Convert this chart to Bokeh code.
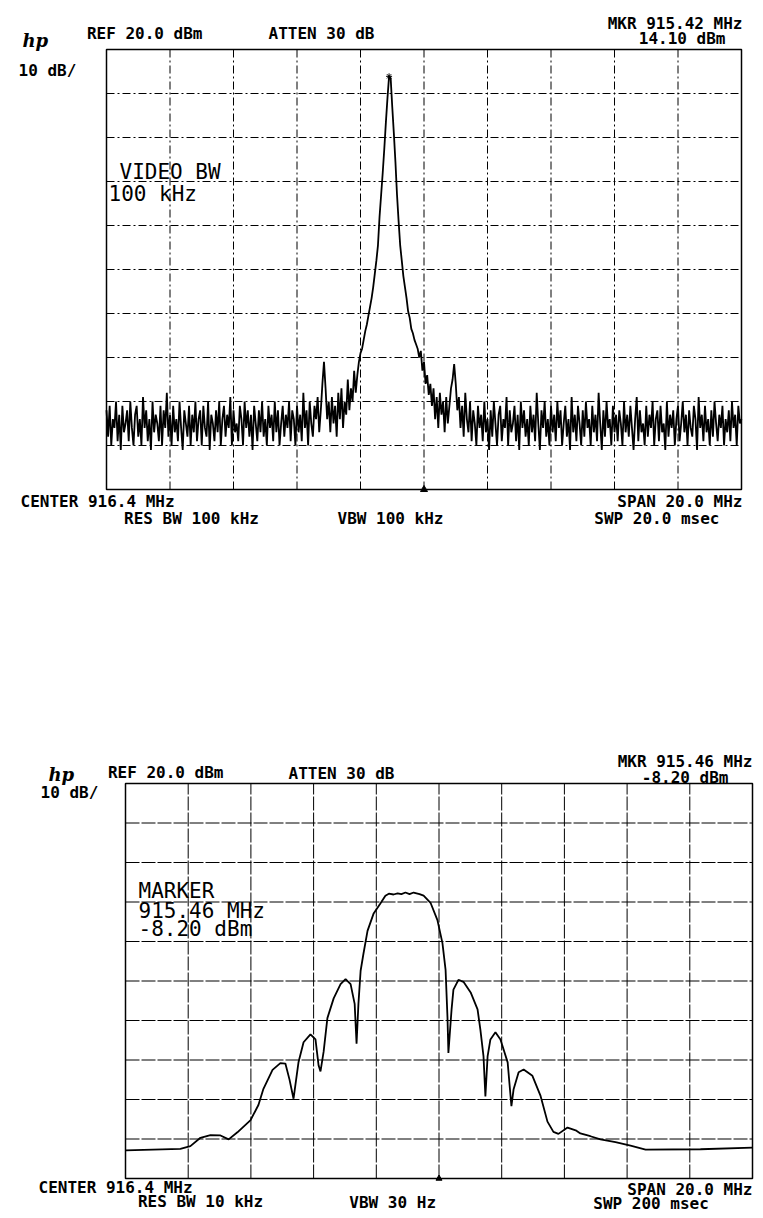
import numpy as np
from bokeh.plotting import figure
from bokeh.models import Label, Range1d
from bokeh.layouts import column
from bokeh.embed import file_html
from bokeh.resources import INLINE

# ---------------- data ----------------
center_mhz = 916.4
span_mhz = 20.0
ref_dbm = 20.0
db_per_div = 10.0
n_div = 10

# Top panel trace (401-point sweep, dBm)
top_noise_left = [
    -62, -68, -61, -70, -64, -66, -60, -69, -63, -71, -61, -67, -65, -62, -69, -60, -66, -70, -63, -61,
    -68, -64, -70, -59, -66, -62, -69, -64, -71, -60, -67, -63, -65, -69, -61, -70, -62, -66, -58, -68,
    -63, -70, -61, -67, -64, -69, -60, -66, -71, -62, -65, -68, -61, -70, -63, -67, -60, -69, -64, -62,
    -70, -61, -66, -68, -60, -71, -63, -65, -69, -62, -67, -60, -70, -64, -61, -68, -63, -66, -59, -70,
    -62, -67, -65, -69, -61, -64, -70, -60, -66, -62, -68, -63, -71, -61, -65, -69, -62, -67, -60, -68,
    -64, -70, -61, -66, -63, -69, -60, -67, -62, -70, -65, -61, -68, -63, -66, -60, -69, -62, -64, -70,
    -61, -67, -63, -69, -58, -66, -62, -70, -60, -65, -68, -61, -64, -59, -67,
]
top_spur_left = [-62, -56, -51, -57, -64]
top_pre_peak = [-60, -67, -59, -65, -61, -68, -58, -64, -57, -66,
                -60, -63, -55, -62, -57, -60, -53, -58, -54, -51]
top_peak = [-49, -48, -46, -44, -42.5, -40.5, -38.5, -36.5, -34, -31,
            -28, -24.5, -18, -13, -8, -2.5, 3.5, 9, 13.9, 13.5,
            7, 1, -5.5, -13, -19, -24.5, -28, -31.5, -34, -36.5,
            -39.5, -41, -43.5, -44.5, -46, -47, -48, -50, -48.5, -53,
            -51, -56, -54, -58.5, -56]
top_post_peak = [-61, -57, -64, -59, -66, -58, -63, -60, -67, -59, -65, -61, -57]
top_spur_right = [-55, -51.5, -56, -62]
top_noise_right = [
    -59, -66, -61, -68, -58, -64, -67, -60, -69, -62, -65, -70, -61, -66, -63, -69, -60, -67, -64, -71,
    -62, -68, -60, -65, -70, -63, -61, -69, -64, -66, -59, -70, -62, -67, -65, -61, -69, -63, -71, -60,
    -66, -62, -68, -64, -70, -61, -67, -63, -69, -58, -65, -71, -62, -66, -60, -68, -64, -70, -61, -67,
    -63, -69, -60, -66, -62, -70, -65, -61, -68, -64, -71, -59, -67, -63, -69, -61, -65, -70, -62, -68,
    -60, -66, -64, -70, -61, -67, -63, -69, -58, -65, -71, -62, -68, -60, -66, -64, -70, -61, -67, -63,
    -69, -62, -65, -70, -60, -67, -63, -68, -61, -66, -71, -64, -59, -69, -62, -67, -65, -70, -61, -68,
    -63, -66, -60, -70, -64, -62, -69, -61, -67, -65, -71, -60, -68, -63, -66, -62, -70, -64, -61, -69,
    -65, -60, -67, -63, -70, -62, -66, -68, -61, -64, -71, -59, -66, -63, -69, -61, -67, -64, -70, -62,
    -68, -60, -65, -69, -63, -66, -61, -70, -64, -67, -62, -69, -60, -66, -63, -70, -61, -65, -64,
]

# Bottom panel trace (MHz, dBm)
bottom_freq = [
    906.40, 908.15, 908.47, 908.79, 909.11, 909.43, 909.69, 909.97, 910.39, 910.64,
    910.80, 911.09, 911.34, 911.50, 911.63, 911.76, 911.92, 912.08, 912.30, 912.46,
    912.56, 912.62, 912.72, 912.84, 913.04, 913.26, 913.42, 913.58, 913.71, 913.77,
    913.83, 913.90, 913.99, 914.12, 914.31, 914.53, 914.69, 914.80, 914.95, 915.08,
    915.20, 915.33, 915.46, 915.59, 915.78, 915.91, 916.13, 916.35, 916.51, 916.61,
    916.67, 916.70, 916.80, 916.86, 917.02, 917.18, 917.41, 917.63, 917.72, 917.82,
    917.88, 917.95, 918.04, 918.20, 918.36, 918.59, 918.71, 918.78, 918.94, 919.10,
    919.38, 919.64, 919.86, 920.05, 920.21, 920.50, 920.76, 920.91, 921.23, 921.55,
    922.03, 922.51, 922.99, 924.74, 926.40,
]
bottom_db = [
    -72.9, -72.5, -71.8, -69.7, -69.0, -69.1, -70.1, -68.3, -65.2, -61.4,
    -57.3, -52.5, -50.8, -50.9, -54.9, -59.8, -50.5, -45.5, -43.5, -44.8,
    -51.4, -52.9, -47.9, -39.4, -34.4, -30.8, -29.5, -30.8, -35.8, -45.9,
    -35.8, -27.4, -23.1, -17.3, -13.0, -10.4, -8.4, -7.9, -8.1, -7.8,
    -8.0, -7.6, -8.0, -7.6, -8.0, -8.4, -10.2, -14.6, -20.4, -27.2,
    -39.1, -48.2, -37.3, -32.2, -29.7, -30.2, -32.9, -37.2, -42.3, -49.1,
    -59.2, -49.1, -44.8, -43.0, -44.8, -50.6, -61.7, -57.4, -53.1, -52.4,
    -54.0, -59.1, -65.6, -68.2, -68.7, -67.1, -67.8, -68.6, -69.3, -70.1,
    -70.8, -71.7, -72.7, -72.6, -72.2,
]

top_texts = ["REF  20.0 dBm", "ATTEN 30 dB", "10 dB/", "MKR 915.42 MHz", "14.10 dBm",
             "CENTER 916.4 MHz", "SPAN 20.0 MHz", "RES BW 100 kHz", "VBW 100 kHz", "SWP 20.0 msec"]
top_notes = ["VIDEO BW", "100 kHz"]
bottom_texts = ["REF  20.0 dBm", "ATTEN 30 dB", "10 dB/", "MKR 915.46 MHz", "-8.20 dBm",
                "CENTER 916.4 MHz", "SPAN 20.0 MHz", "RES BW 10 kHz", "VBW 30  Hz", "SWP 200  msec"]
bottom_notes = ["MARKER", "915.46 MHz", "-8.20 dBm"]

# ---------------- build ----------------
top_db = (top_noise_left + top_spur_left + top_pre_peak + top_peak
          + top_post_peak + top_spur_right + top_noise_right)
f_start = center_mhz - span_mhz / 2
f_stop = center_mhz + span_mhz / 2
top_freq = np.linspace(f_start, f_stop, len(top_db))
y_bottom = ref_dbm - db_per_div * n_div

x_ticks = [f_start + k * span_mhz / n_div for k in range(n_div + 1)]
y_ticks = [ref_dbm - k * db_per_div for k in range(n_div + 1)]

MONO = "DejaVu Sans Mono"
W = 760


def make_panel(height, fl, ft, fw, fh, dash):
    """Figure whose frame is the whole canvas; the graticule box sits at (fl, ft, fw, fh)."""
    span = f_stop - f_start
    rng = ref_dbm - y_bottom
    xr = Range1d(f_start - fl / fw * span, f_start + (W - fl) / fw * span)
    yr = Range1d(ref_dbm - (height - ft) / fh * rng, ref_dbm + ft / fh * rng)
    p = figure(width=W, height=height, x_range=xr, y_range=yr, output_backend="svg",
               toolbar_location=None, x_axis_location=None, y_axis_location=None,
               title=None, min_border=0)
    p.outline_line_color = None
    p.background_fill_color = "white"
    p.border_fill_color = "white"
    p.grid.visible = False
    # graticule
    p.segment(x0=x_ticks, y0=[y_bottom] * len(x_ticks), x1=x_ticks, y1=[ref_dbm] * len(x_ticks),
              line_color="black", line_width=1, line_dash=dash)
    p.segment(x0=[f_start] * len(y_ticks), y0=y_ticks, x1=[f_stop] * len(y_ticks), y1=y_ticks,
              line_color="black", line_width=1, line_dash=dash)
    p.quad(left=[f_start], right=[f_stop], bottom=[y_bottom], top=[ref_dbm],
           fill_color=None, line_color="black", line_width=1.5)
    spec = dict(fl=fl, ft=ft, fw=fw, fh=fh)
    return p, spec


def put(p, spec, ox, oy, text, px, py, align="left", size=16, style="bold", font=MONO):
    cx = px - ox
    cy = py - oy
    x = f_start + (cx - spec["fl"]) / spec["fw"] * (f_stop - f_start)
    y = ref_dbm - (cy - spec["ft"]) / spec["fh"] * (ref_dbm - y_bottom)
    p.add_layout(Label(x=x, y=y, text=text, text_align=align, text_baseline="middle",
                       text_font=font, text_font_size=f"{size}px", text_font_style=style,
                       text_color="black"))


# ---- top panel ----
H1 = 606
o1 = (0, 0)
p1, s1 = make_panel(H1, 106 - o1[0], 49 - o1[1], 635, 440, "8 3 2 3")
p1.line(top_freq, top_db, line_color="black", line_width=1.8)
ipk = int(np.argmax(top_db))
p1.scatter([top_freq[ipk]], [top_db[ipk]], marker="asterisk", size=6, line_color="black")
p1.scatter([center_mhz], [y_bottom], marker="triangle", size=7, color="black")

put(p1, s1, *o1, "hp", 22, 40, "left", 18, "bold italic", "DejaVu Serif")
pos_top = [(149, 33, "center"), (321, 33, "center"), (18, 70, "left"), (742, 23, "right"),
           (725, 38, "right"), (20, 501, "left"), (742, 501, "right"), (191, 518, "center"),
           (390, 518, "center"), (719, 518, "right")]
for t, (px, py, al) in zip(top_texts, pos_top):
    put(p1, s1, *o1, t, px, py, al)
for t, (px, py) in zip(top_notes, [(119, 171), (108, 193)]):
    put(p1, s1, *o1, t, px, py, "left", 21, "normal")

# ---- bottom panel ----
H2 = 608
o2 = (0, H1)
p2, s2 = make_panel(H2, 125 - o2[0], 783 - o2[1], 627, 395, "14 2")
p2.line(bottom_freq, bottom_db, line_color="black", line_width=1.8)
p2.scatter([center_mhz], [y_bottom], marker="triangle", size=6, color="black")

put(p2, s2, *o2, "hp", 48, 774, "left", 18, "bold italic", "DejaVu Serif")
pos_bot = [(170, 772, "center"), (341, 773, "center"), (40, 792, "left"), (752, 761, "right"),
           (728, 777, "right"), (38, 1187, "left"), (752, 1189, "right"), (200, 1201, "center"),
           (397, 1202, "center"), (718, 1203, "right")]
for t, (px, py, al) in zip(bottom_texts, pos_bot):
    put(p2, s2, *o2, t, px, py, al)
for t, (px, py) in zip(bottom_notes, [(138, 890), (138, 910), (138, 928)]):
    put(p2, s2, *o2, t, px, py, "left", 21, "normal")

layout = column(p1, p2)
open("out.html", "w").write(file_html(layout, INLINE))
